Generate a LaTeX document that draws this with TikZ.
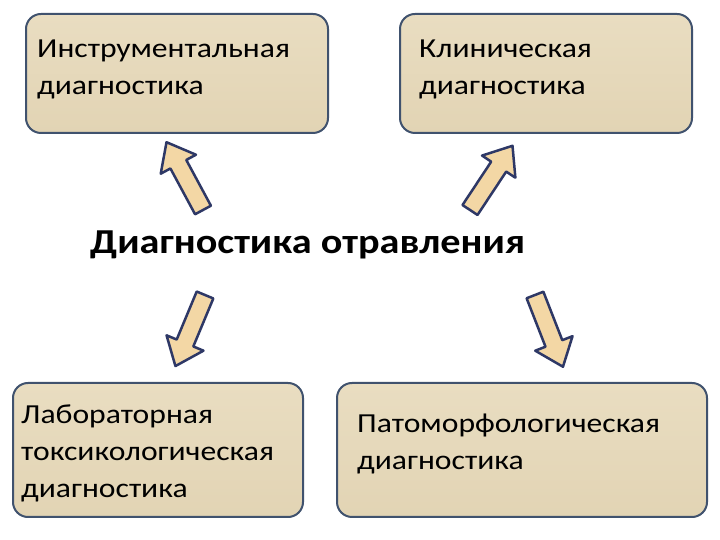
\documentclass[tikz,border=0pt]{standalone}
\usepackage{fontspec}
\setmainfont{Carlito}
\newfontfamily\wideboxfont[FakeStretch=1.15]{Carlito}
\usetikzlibrary{positioning}
\definecolor{parch}{RGB}{233,221,193}
\definecolor{parchdark}{RGB}{226,212,180}
\definecolor{boxline}{RGB}{64,82,110}
\definecolor{arrline}{RGB}{46,56,102}
\definecolor{arrfill}{RGB}{243,215,165}
\tikzset{
  box/.style={draw=boxline, line width=2pt, rounded corners=15pt, inner sep=0pt,
    top color=parch, bottom color=parchdark},
  boxtext/.style={inner sep=0pt, align=left, font=\wideboxfont\fontsize{27.5}{37}\selectfont, text=black},
  titletext/.style={inner sep=0pt, font=\wideboxfont\bfseries\fontsize{35}{40}\selectfont, text=black},
  barrow/.pic={
    \draw[draw=arrline, line width=2.5pt, line join=round, fill=arrfill]
      (0,-9) -- (52,-9) -- (52,-20) -- (77,0) -- (52,20) -- (52,9) -- (0,9) -- cycle;
  }
}
\begin{document}
\begin{tikzpicture}[x=1pt,y=1pt]
\useasboundingbox (0,0) rectangle (720,540);
\fill[white] (0,0) rectangle (720,540);
% boxes
\node[box, minimum width=302pt, minimum height=119pt] (b1) at (177,466.5) {};
\node[box, minimum width=292pt, minimum height=119pt] (b2) at (546,466.5) {};
\node[box, minimum width=290pt, minimum height=134pt] (b3) at (158,90) {};
\node[box, minimum width=370pt, minimum height=134pt] (b4) at (522,90) {};
% texts (base anchor = baseline of last line)
\node[boxtext, anchor=base west] (t1) at (37,445) {Инструментальная\\диагностика};
\node[boxtext, anchor=base west] (t2) at (419,445) {Клиническая\\диагностика};
\node[boxtext, anchor=base west] (t3) at (21,42) {Лабораторная\\токсикологическая\\диагностика};
\node[boxtext, anchor=base west] (t4) at (357,70) {Патоморфологическая\\диагностика};
\node[titletext, anchor=base west] (c) at (90,286) {Диагностика отравления};
% arrows
\pic[rotate=118.3] at (203,330) {barrow};
\pic[rotate=56.5] at (470,330) {barrow};
\pic[rotate=-112.6] at (205,245) {barrow};
\pic[rotate=-68.7] at (535,245) {barrow};
\end{tikzpicture}
\end{document}
